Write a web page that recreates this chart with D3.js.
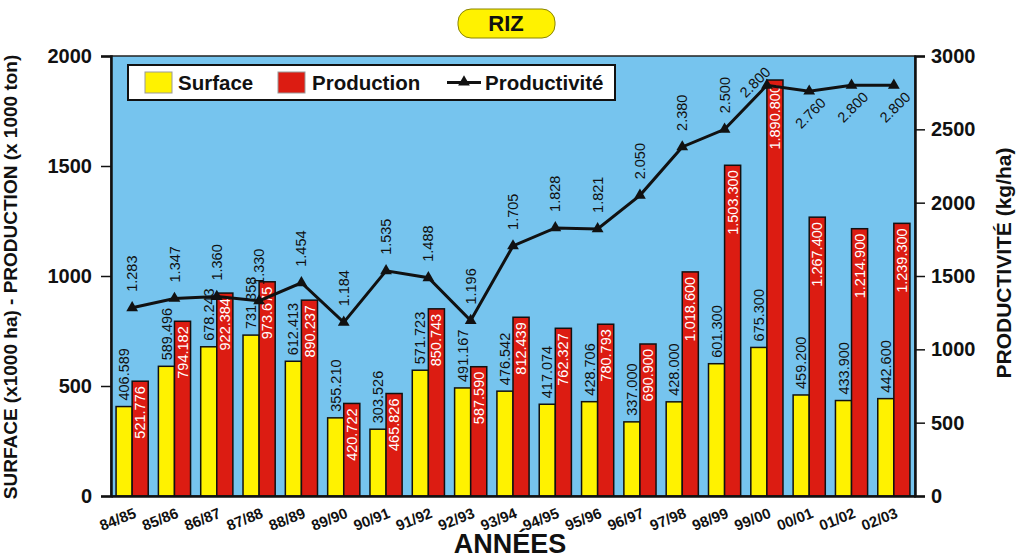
<!DOCTYPE html>
<html>
<head>
<meta charset="utf-8">
<script src="https://cdn.jsdelivr.net/npm/d3@7"></script>
<style>
  body { margin: 0; background: #fff; }
  svg { display: block; font-family: "Liberation Sans", Arial, sans-serif; }
</style>
</head>
<body>
<svg id="chart" width="1016" height="558"></svg>
<script>
// data
const years = ["84/85", "85/86", "86/87", "87/88", "88/89", "89/90", "90/91", "91/92", "92/93", "93/94",
  "94/95", "95/96", "96/97", "97/98", "98/99", "99/00", "00/01", "01/02", "02/03"];
const surface = [406.589, 589.496, 678.243, 731.358, 612.413, 355.210, 303.526, 571.723, 491.167, 476.542,
  417.074, 428.706, 337.000, 428.000, 601.300, 675.300, 459.200, 433.900, 442.600];
const production = [521.776, 794.182, 922.384, 973.675, 890.237, 420.722, 465.826, 850.743, 587.590, 812.439,
  762.327, 780.793, 690.900, 1018.600, 1503.300, 1890.800, 1267.400, 1214.900, 1239.300];
const productivite = [1283, 1347, 1360, 1330, 1454, 1184, 1535, 1488, 1196, 1705,
  1828, 1821, 2050, 2380, 2500, 2800, 2760, 2800, 2800];
const leftTicks = [0, 500, 1000, 1500, 2000];
const rightTicks = [0, 500, 1000, 1500, 2000, 2500, 3000];

const YELLOW = "#fff200", RED = "#dc1c12", BLUE = "#76c4ee";

const svg = d3.select("#chart");
const plot = { left: 111, right: 915, top: 56, bottom: 496 };

const loc = d3.formatLocale({ decimal: ",", thousands: ".", grouping: [3] });
const fmt3 = v => {
  // 1018.6 -> "1.018.600"
  const intPart = Math.floor(v);
  const dec = Math.round((v - intPart) * 1000);
  return loc.format(",")(intPart) + "." + String(dec).padStart(3, "0");
};
const fmtK = loc.format(",");

const x0 = d3.scaleBand().domain(years).range([plot.left, plot.right]).paddingInner(0.24).paddingOuter(0.12);
const x1 = d3.scaleBand().domain(["s", "p"]).range([0, x0.bandwidth()]);
const yL = d3.scaleLinear().domain([0, 2000]).range([plot.bottom, plot.top]);
const yR = d3.scaleLinear().domain([0, 3000]).range([plot.bottom, plot.top]);

// plot background
svg.append("rect")
  .attr("x", plot.left).attr("y", plot.top)
  .attr("width", plot.right - plot.left).attr("height", plot.bottom - plot.top)
  .attr("fill", BLUE).attr("stroke", "#222").attr("stroke-width", 1.5);

// title
const tg = svg.append("g");
tg.append("rect").attr("x", 458).attr("y", 9).attr("width", 97).attr("height", 29).attr("rx", 13)
  .attr("fill", "#fff200").attr("stroke", "#8a8400").attr("stroke-width", 1);
tg.append("text").attr("x", 506).attr("y", 31).attr("text-anchor", "middle")
  .attr("font-size", 22).attr("font-weight", "bold").attr("fill", "#111").text("RIZ");

// bars
const rows = years.map((y, i) => ({ year: y, s: surface[i], p: production[i], k: productivite[i] }));

const groups = svg.append("g").selectAll("g").data(rows).enter().append("g")
  .attr("transform", d => `translate(${x0(d.year)},0)`);

groups.append("rect")
  .attr("x", x1("s")).attr("width", x1.bandwidth())
  .attr("y", d => yL(d.s)).attr("height", d => yL(0) - yL(d.s))
  .attr("fill", YELLOW).attr("stroke", "#111").attr("stroke-width", 1.5);

groups.append("rect")
  .attr("x", x1("p")).attr("width", x1.bandwidth())
  .attr("y", d => yL(d.p)).attr("height", d => yL(0) - yL(d.p))
  .attr("fill", RED).attr("stroke", "#111").attr("stroke-width", 1.5);

// bar labels
groups.append("text")
  .attr("transform", d => `translate(${x1("s") + x1.bandwidth() / 2},${yL(d.s) - 6}) rotate(-90)`)
  .attr("dy", "0.35em").attr("font-size", 14.5).attr("fill", "#111")
  .text(d => fmt3(d.s));

groups.append("text")
  .attr("transform", d => `translate(${x1("p") + x1.bandwidth() / 2},${yL(d.p) + 5}) rotate(-90)`)
  .attr("dy", "0.35em").attr("text-anchor", "end").attr("font-size", 14.5).attr("fill", "#fff")
  .text(d => fmt3(d.p));

// axes
const axL = svg.append("g").attr("transform", `translate(${plot.left},0)`)
  .call(d3.axisLeft(yL).tickValues(leftTicks).tickSize(10).tickPadding(9).tickFormat(d3.format("d")));
const axR = svg.append("g").attr("transform", `translate(${plot.right},0)`)
  .call(d3.axisRight(yR).tickValues(rightTicks).tickSize(10).tickPadding(6).tickFormat(d3.format("d")));
[axL, axR].forEach(a => {
  a.select(".domain").attr("stroke", "#111").attr("stroke-width", 2.5);
  a.selectAll(".tick line").attr("stroke", "#111").attr("stroke-width", 1.5);
  a.selectAll(".tick text").attr("font-size", 20).attr("font-weight", "bold")
    .attr("font-family", "'Liberation Sans', Arial, sans-serif").attr("fill", "#111");
});

const axB = svg.append("g").attr("transform", `translate(0,${plot.bottom})`)
  .call(d3.axisBottom(x0).tickSize(0).tickFormat(""));
axB.select(".domain").attr("stroke", "#111").attr("stroke-width", 2.5);

svg.append("g").selectAll("text").data(years).enter().append("text")
  .attr("transform", d => `translate(${x0(d) + x0.bandwidth() / 2 + 5},${plot.bottom + 21}) rotate(-22)`)
  .attr("text-anchor", "end").attr("font-size", 15).attr("font-weight", "bold").attr("fill", "#111")
  .text(d => d);

// productivity line
const cx = d => x0(d.year) + x0.bandwidth() / 2;
svg.append("path").datum(rows)
  .attr("d", d3.line().x(cx).y(d => yR(d.k)))
  .attr("fill", "none").attr("stroke", "#111").attr("stroke-width", 3);

const tri = d3.symbol().type(d3.symbolTriangle).size(60);
svg.append("g").selectAll("path").data(rows).enter().append("path")
  .attr("d", tri).attr("transform", d => `translate(${cx(d)},${yR(d.k)})`).attr("fill", "#111");

svg.append("g").selectAll("text").data(rows).enter().append("text")
  .attr("transform", (d, i) => {
    const mx = cx(d), my = yR(d.k);
    if (i > 15) return `translate(${mx + 14},${my + 9}) rotate(-45)`;
    if (i === 15) return `translate(${mx + 1},${my - 16}) rotate(-45)`;
    return `translate(${mx},${my - 16}) rotate(-90)`;
  })
  .attr("dy", "0.35em")
  .attr("text-anchor", (d, i) => i >= 15 ? "end" : "start")
  .attr("font-size", 14.5).attr("fill", "#111")
  .text(d => fmtK(d.k));

// legend
const lg = svg.append("g");
lg.append("rect").attr("x", 128).attr("y", 65).attr("width", 487).attr("height", 35)
  .attr("fill", "#fff").attr("stroke", "#111").attr("stroke-width", 2);
lg.append("rect").attr("x", 145).attr("y", 72).attr("width", 27).attr("height", 21)
  .attr("fill", YELLOW).attr("stroke", "#999").attr("stroke-width", 1);
lg.append("text").attr("x", 178).attr("y", 90).attr("font-size", 20.5).attr("font-weight", "bold")
  .attr("fill", "#111").text("Surface");
lg.append("rect").attr("x", 278).attr("y", 72).attr("width", 27).attr("height", 21)
  .attr("fill", RED).attr("stroke", "#999").attr("stroke-width", 1);
lg.append("text").attr("x", 312).attr("y", 90).attr("font-size", 20.5).attr("font-weight", "bold")
  .attr("fill", "#111").text("Production");
lg.append("line").attr("x1", 447).attr("x2", 481).attr("y1", 82.5).attr("y2", 82.5)
  .attr("stroke", "#111").attr("stroke-width", 3);
lg.append("path").attr("d", tri).attr("transform", "translate(464,82)").attr("fill", "#111");
lg.append("text").attr("x", 485).attr("y", 90).attr("font-size", 20.5).attr("font-weight", "bold")
  .attr("fill", "#111").text("Productivité");

// axis titles
svg.append("text").attr("transform", "translate(17,277) rotate(-90)").attr("text-anchor", "middle")
  .attr("font-size", 19).attr("font-weight", "bold").attr("fill", "#111")
  .text("SURFACE (x1000 ha) - PRODUCTION (x 1000 ton)");
svg.append("text").attr("transform", "translate(1011,263) rotate(-90)").attr("text-anchor", "middle")
  .attr("font-size", 21).attr("font-weight", "bold").attr("fill", "#111")
  .text("PRODUCTIVITÉ (kg/ha)");
svg.append("text").attr("x", 510).attr("y", 553).attr("text-anchor", "middle")
  .attr("font-size", 27).attr("font-weight", "bold").attr("fill", "#111").text("ANNÉES");
</script>
</body>
</html>
